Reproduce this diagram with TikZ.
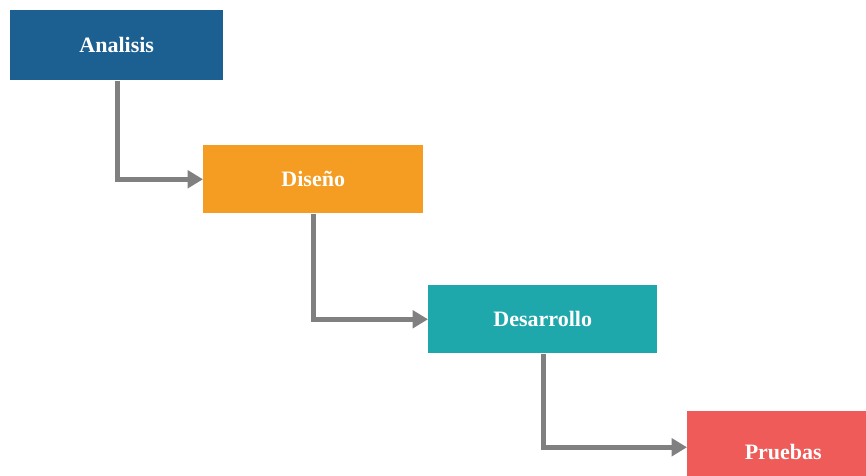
\documentclass[tikz,border=0pt]{standalone}
\usepackage{fontspec}
\setmainfont{Liberation Serif}
\usetikzlibrary{arrows.meta}
\definecolor{cblue}{HTML}{1C5F91}
\definecolor{corange}{HTML}{F49D22}
\definecolor{cteal}{HTML}{1FA8AB}
\definecolor{cred}{HTML}{EE5B58}
\definecolor{cgray}{HTML}{808080}
\begin{document}
\begin{tikzpicture}[x=0.75pt,y=-0.75pt,
  phase/.style={draw=none,inner sep=0pt,anchor=north west,text=white,
    font=\fontsize{16.5}{18}\selectfont\bfseries},
  flow/.style={draw=cgray,line width=4pt,
    -{Triangle[length=11.5pt,width=13pt]}}]
\useasboundingbox (0,0) rectangle (866,475);
\begin{scope}
\clip (0,0) rectangle (866,475);
\node[phase,fill=cblue,minimum width=213*0.75pt,minimum height=70*0.75pt] (a) at (10,10) {Analisis};
\node[phase,fill=corange,minimum width=220*0.75pt,minimum height=68*0.75pt] (d) at (203,145) {Diseño};
\node[phase,fill=cteal,minimum width=229*0.75pt,minimum height=68*0.75pt] (s) at (428,285) {Desarrollo};
\node[phase,fill=cred,minimum width=192*0.75pt,minimum height=82*0.75pt] (p) at (687,411) {Pruebas};
\end{scope}
\draw[flow] ([xshift=0.5*0.75pt]a.south) |- (d.west);
\draw[flow] (d.south) |- (s.west);
\draw[flow] ([xshift=0.5*0.75pt]s.south) |- ([yshift=5*0.75pt]p.west);
\end{tikzpicture}
\end{document}
